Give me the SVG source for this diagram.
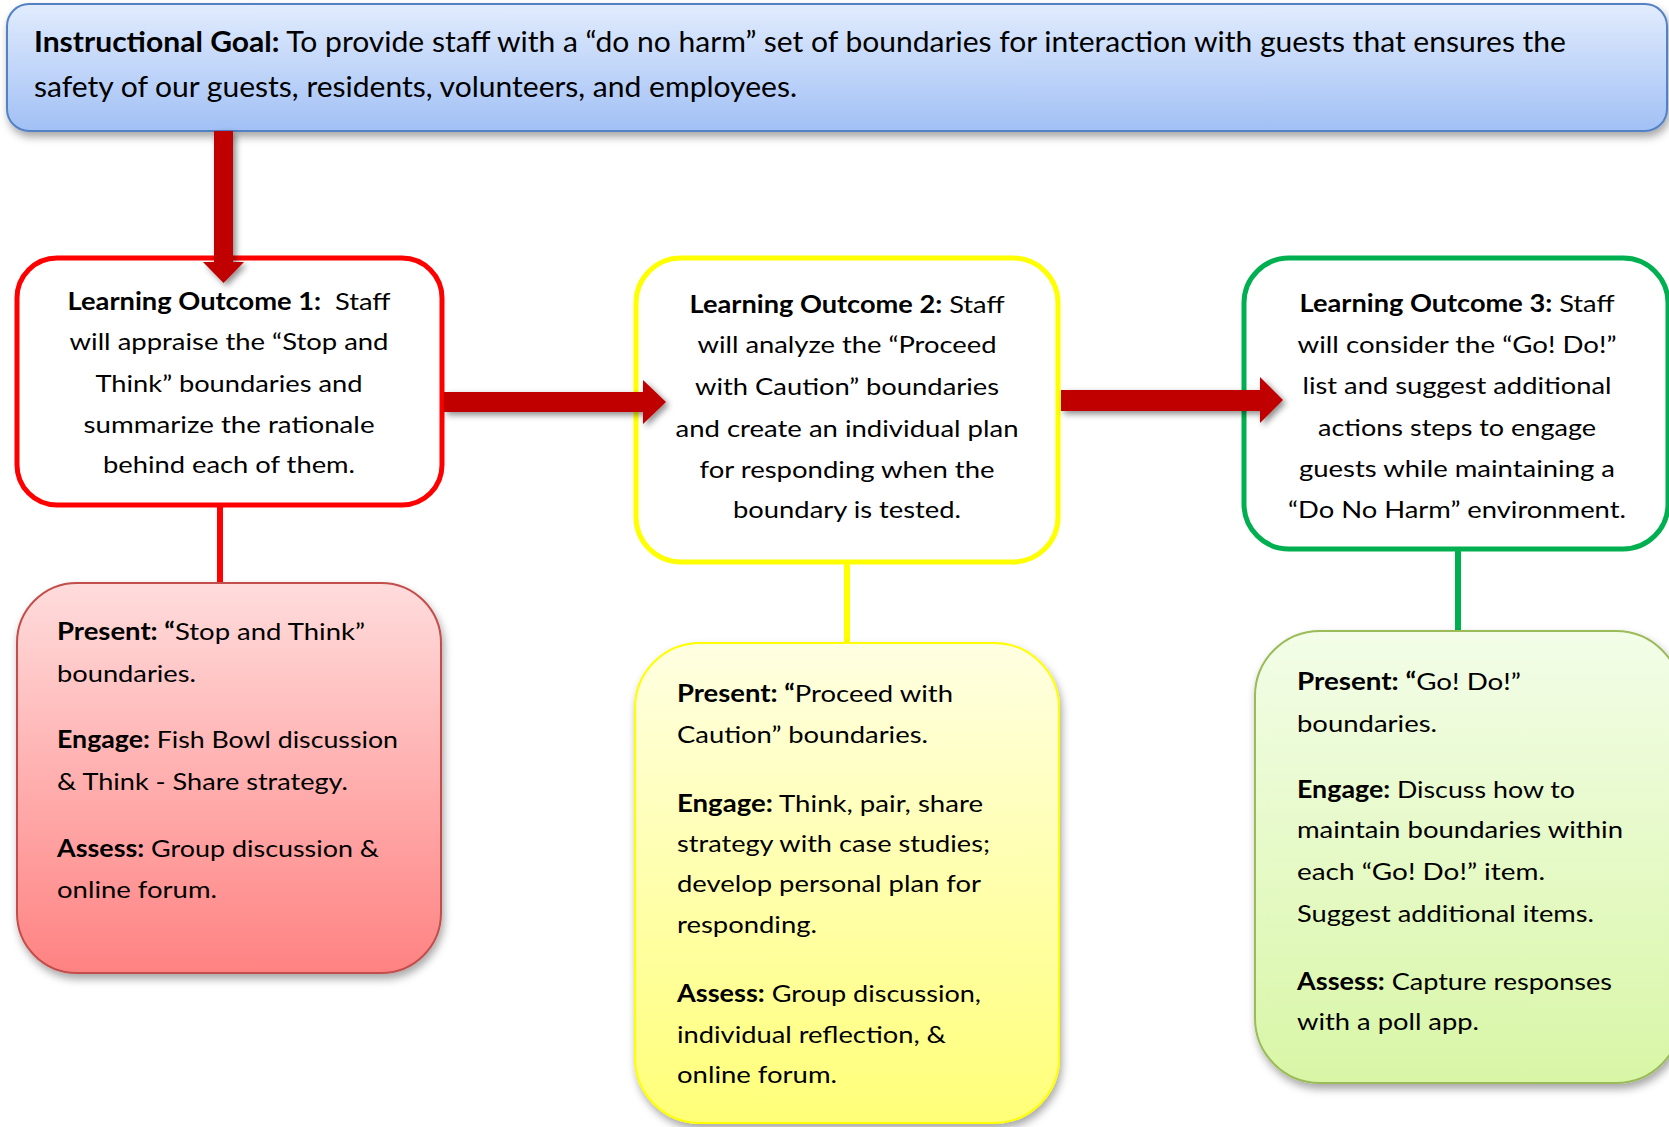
<svg xmlns="http://www.w3.org/2000/svg" width="1669" height="1127" viewBox="0 0 1669 1127">
<style>
text{font-family:Lato,"Noto Sans","Liberation Sans",sans-serif;fill:#000;}
.t{font-size:24px;}
.g{font-size:28px;}
.b{font-weight:bold;}
.lo{fill:#fff;stroke-width:5;}
.act{stroke-width:2;}
.arrow{fill:#c00000;filter:url(#ash);}
.con{stroke-width:6;fill:none;}
</style>
<defs>
<linearGradient id="gBlue" x1="0" y1="0" x2="0" y2="1"><stop offset="0" stop-color="#e1ecfd"/><stop offset="1" stop-color="#a2c0f5"/></linearGradient>
<linearGradient id="gRed" x1="0" y1="0" x2="0" y2="1"><stop offset="0" stop-color="#ffdcdc"/><stop offset="1" stop-color="#ff8282"/></linearGradient>
<linearGradient id="gYel" x1="0" y1="0" x2="0" y2="1"><stop offset="0" stop-color="#ffffe2"/><stop offset="1" stop-color="#ffff78"/></linearGradient>
<linearGradient id="gGrn" x1="0" y1="0" x2="0" y2="1"><stop offset="0" stop-color="#f3fde8"/><stop offset="1" stop-color="#d8f6a6"/></linearGradient>
<filter id="sh" x="-10%" y="-10%" width="125%" height="130%"><feDropShadow dx="2" dy="5" stdDeviation="4" flood-color="#000" flood-opacity="0.35"/></filter>
<filter id="ash" x="-20%" y="-20%" width="150%" height="150%"><feDropShadow dx="3" dy="3" stdDeviation="3" flood-color="#000" flood-opacity="0.45"/></filter>
</defs>

<g id="goal">
<rect x="7" y="4" width="1660" height="127" rx="22" fill="url(#gBlue)" stroke="#5282c4" stroke-width="2" filter="url(#sh)"/>
<text class="g" x="34" y="52" textLength="1532" lengthAdjust="spacingAndGlyphs"><tspan class="b">Instructional Goal:</tspan> To provide staff with a “do no harm” set of boundaries for interaction with guests that ensures the</text>
<text class="g" x="34" y="97" textLength="763" lengthAdjust="spacingAndGlyphs">safety of our guests, residents, volunteers, and employees.</text>
</g>

<g id="connectors-lines">
<line class="con" x1="220" y1="505" x2="220" y2="584" stroke="#ff0000"/>
<line class="con" x1="847" y1="562" x2="847" y2="644" stroke="#ffff00"/>
<line class="con" x1="1458" y1="549" x2="1458" y2="631" stroke="#00b050"/>
</g>

<g id="lo1">
<rect class="lo" x="17" y="258" width="425" height="247" rx="40" stroke="#ff0000"/>
<g class="t" text-anchor="middle">
<text x="229" y="310" textLength="323" lengthAdjust="spacingAndGlyphs"><tspan class="b">Learning Outcome 1:</tspan>&#160; Staff</text>
<text x="229" y="350" textLength="319" lengthAdjust="spacingAndGlyphs">will appraise the “Stop and</text>
<text x="229" y="392" textLength="267" lengthAdjust="spacingAndGlyphs">Think” boundaries and</text>
<text x="229" y="433" textLength="291" lengthAdjust="spacingAndGlyphs">summarize the rationale</text>
<text x="229" y="473" textLength="252" lengthAdjust="spacingAndGlyphs">behind each of them.</text>
</g>
</g>

<g id="lo2">
<rect class="lo" x="636" y="258" width="422" height="304" rx="45" stroke="#ffff00"/>
<g class="t" text-anchor="middle">
<text x="847" y="313" textLength="315" lengthAdjust="spacingAndGlyphs"><tspan class="b">Learning Outcome 2:</tspan> Staff</text>
<text x="847" y="353" textLength="299" lengthAdjust="spacingAndGlyphs">will analyze the “Proceed</text>
<text x="847" y="395" textLength="304" lengthAdjust="spacingAndGlyphs">with Caution” boundaries</text>
<text x="847" y="437" textLength="343" lengthAdjust="spacingAndGlyphs">and create an individual plan</text>
<text x="847" y="478" textLength="295" lengthAdjust="spacingAndGlyphs">for responding when the</text>
<text x="847" y="518" textLength="228" lengthAdjust="spacingAndGlyphs">boundary is tested.</text>
</g>
</g>

<g id="lo3">
<rect class="lo" x="1244" y="258" width="424" height="291" rx="45" stroke="#00b050"/>
<g class="t" text-anchor="middle">
<text x="1457" y="312" textLength="315" lengthAdjust="spacingAndGlyphs"><tspan class="b">Learning Outcome 3:</tspan> Staff</text>
<text x="1457" y="353" textLength="319" lengthAdjust="spacingAndGlyphs">will consider the “Go! Do!”</text>
<text x="1457" y="394" textLength="309" lengthAdjust="spacingAndGlyphs">list and suggest additional</text>
<text x="1457" y="436" textLength="278" lengthAdjust="spacingAndGlyphs">actions steps to engage</text>
<text x="1457" y="477" textLength="316" lengthAdjust="spacingAndGlyphs">guests while maintaining a</text>
<text x="1457" y="518" textLength="338" lengthAdjust="spacingAndGlyphs">“Do No Harm” environment.</text>
</g>
</g>

<g id="act1">
<rect class="act" x="17" y="583" width="424" height="390" rx="60" fill="url(#gRed)" stroke="#c24d4b" filter="url(#sh)"/>
<g class="t">
<text x="57" y="640" textLength="308" lengthAdjust="spacingAndGlyphs"><tspan class="b">Present: “</tspan>Stop and Think”</text>
<text x="57" y="682" textLength="139" lengthAdjust="spacingAndGlyphs">boundaries.</text>
<text x="57" y="748" textLength="341" lengthAdjust="spacingAndGlyphs"><tspan class="b">Engage:</tspan> Fish Bowl discussion</text>
<text x="57" y="790" textLength="291" lengthAdjust="spacingAndGlyphs">&amp; Think - Share strategy.</text>
<text x="57" y="857" textLength="322" lengthAdjust="spacingAndGlyphs"><tspan class="b">Assess:</tspan> Group discussion &amp;</text>
<text x="57" y="898" textLength="160" lengthAdjust="spacingAndGlyphs">online forum.</text>
</g>
</g>

<g id="act2">
<rect class="act" x="635" y="643" width="424" height="480" rx="65" fill="url(#gYel)" stroke="#ffff00" filter="url(#sh)"/>
<g class="t">
<text x="677" y="702" textLength="276" lengthAdjust="spacingAndGlyphs"><tspan class="b">Present: “</tspan>Proceed with</text>
<text x="677" y="743" textLength="251" lengthAdjust="spacingAndGlyphs">Caution” boundaries.</text>
<text x="677" y="812" textLength="306" lengthAdjust="spacingAndGlyphs"><tspan class="b">Engage:</tspan> Think, pair, share</text>
<text x="677" y="852" textLength="313" lengthAdjust="spacingAndGlyphs">strategy with case studies;</text>
<text x="677" y="892" textLength="304" lengthAdjust="spacingAndGlyphs">develop personal plan for</text>
<text x="677" y="933" textLength="140" lengthAdjust="spacingAndGlyphs">responding.</text>
<text x="677" y="1002" textLength="304" lengthAdjust="spacingAndGlyphs"><tspan class="b">Assess:</tspan> Group discussion,</text>
<text x="677" y="1043" textLength="269" lengthAdjust="spacingAndGlyphs">individual reflection, &amp;</text>
<text x="677" y="1083" textLength="160" lengthAdjust="spacingAndGlyphs">online forum.</text>
</g>
</g>

<g id="act3">
<rect class="act" x="1255" y="631" width="426" height="452" rx="65" fill="url(#gGrn)" stroke="#9bbb59" filter="url(#sh)"/>
<g class="t">
<text x="1297" y="690" textLength="224" lengthAdjust="spacingAndGlyphs"><tspan class="b">Present: “</tspan>Go! Do!”</text>
<text x="1297" y="732" textLength="140" lengthAdjust="spacingAndGlyphs">boundaries.</text>
<text x="1297" y="798" textLength="278" lengthAdjust="spacingAndGlyphs"><tspan class="b">Engage:</tspan> Discuss how to</text>
<text x="1297" y="838" textLength="326" lengthAdjust="spacingAndGlyphs">maintain boundaries within</text>
<text x="1297" y="880" textLength="248" lengthAdjust="spacingAndGlyphs">each “Go! Do!” item.</text>
<text x="1297" y="922" textLength="297" lengthAdjust="spacingAndGlyphs">Suggest additional items.</text>
<text x="1297" y="990" textLength="315" lengthAdjust="spacingAndGlyphs"><tspan class="b">Assess:</tspan> Capture responses</text>
<text x="1297" y="1030" textLength="182" lengthAdjust="spacingAndGlyphs">with a poll app.</text>
</g>
</g>

<g id="connectors">
<polygon class="arrow" points="214,131 233,131 233,262 244,262 223.5,283 203,262 214,262"/>
<polygon class="arrow" points="444,392 643,392 643,380 666,402 643,424 643,412 444,412"/>
<polygon class="arrow" points="1061,390 1260,390 1260,377 1283,400 1260,423 1260,411 1061,411"/>
</g>
</svg>
